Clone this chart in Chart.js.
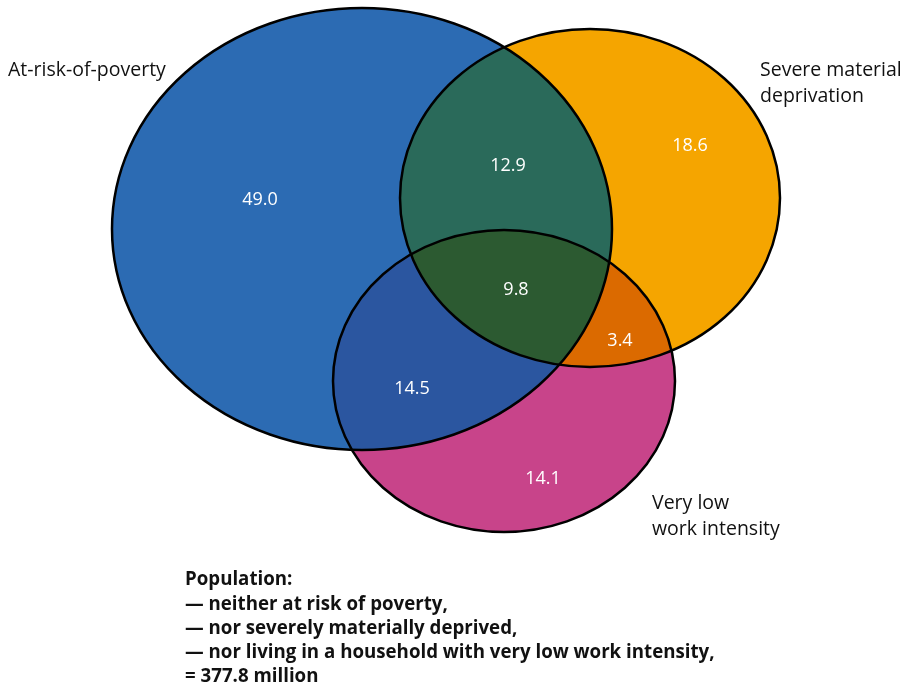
<!DOCTYPE html>
<html>
<head>
<meta charset="utf-8">
<script src="https://cdn.jsdelivr.net/npm/chart.js@4"></script>
<style>
  html, body { margin: 0; padding: 0; background: #fff; }
  #venn { display: block; }
</style>
</head>
<body>
<canvas id="venn" width="911" height="687"></canvas>
<script>
// region values (million persons)
const regions = ["AROP only", "AROP+SMD", "SMD only", "all three", "SMD+LWI", "AROP+LWI", "LWI only"];
const values = [49.0, 12.9, 18.6, 9.8, 3.4, 14.5, 14.1];
const setNames = ["At-risk-of-poverty", "Severe material\ndeprivation", "Very low\nwork intensity"];
const noteLines = [
  "Population:",
  "\u2014 neither at risk of poverty,",
  "\u2014 nor severely materially deprived,",
  "\u2014 nor living in a household with very low work intensity,",
  "= 377.8 million"
];

// layout of the diagram (in axis units)
const sets = [
  { cx: 362, cy: 229, rx: 250, ry: 221, color: "#2c6bb3" },
  { cx: 590, cy: 198, rx: 190, ry: 169, color: "#f5a500" },
  { cx: 504, cy: 381, rx: 171, ry: 151, color: "#c8448a" }
];
// which sets make up each region, where its label sits, and its colour
const regionSets = [[0], [0, 1], [1], [0, 1, 2], [1, 2], [0, 2], [2]];
const regionColor = ["#2c6bb3", "#2a6a5a", "#f5a500", "#2c5a31", "#db6a00", "#2b56a0", "#c8448a"];
const labelPos = [[260, 200], [508, 166], [690, 146], [516, 290], [620, 341], [412, 389], [543, 479]];
const namePos = [[8, 70, "left"], [760, 70, "left"], [652, 503, "left"]];

const vennPlugin = {
  id: "venn",
  beforeDatasetsDraw(chart) {
    const ctx = chart.ctx;
    const xs = chart.scales.x, ys = chart.scales.y;
    const ell = (s) => {
      const cx = xs.getPixelForValue(s.cx), cy = ys.getPixelForValue(s.cy);
      const rx = Math.abs(xs.getPixelForValue(s.cx + s.rx) - cx);
      const ry = Math.abs(ys.getPixelForValue(s.cy + s.ry) - cy);
      ctx.beginPath();
      ctx.ellipse(cx, cy, rx, ry, 0, 0, Math.PI * 2);
    };
    // fill base sets
    sets.forEach((s) => { ctx.save(); ell(s); ctx.fillStyle = s.color; ctx.fill(); ctx.restore(); });
    // overlaps (pairs first, triple last)
    const order = [1, 4, 5, 3];
    order.forEach((r) => {
      ctx.save();
      const ids = regionSets[r];
      for (let i = 0; i < ids.length - 1; i++) { ell(sets[ids[i]]); ctx.clip(); }
      ell(sets[ids[ids.length - 1]]);
      ctx.fillStyle = regionColor[r];
      ctx.fill();
      ctx.restore();
    });
    // outlines
    sets.forEach((s) => {
      ctx.save(); ell(s); ctx.lineWidth = 2.5; ctx.strokeStyle = "#000"; ctx.stroke(); ctx.restore();
    });
  },
  afterDatasetsDraw(chart) {
    const ctx = chart.ctx;
    const xs = chart.scales.x, ys = chart.scales.y;
    ctx.save();
    ctx.textBaseline = "middle";
    // values
    ctx.font = "18px 'Open Sans', sans-serif";
    ctx.fillStyle = "#fff";
    ctx.textAlign = "center";
    values.forEach((v, i) => {
      ctx.fillText(v.toFixed(1), xs.getPixelForValue(labelPos[i][0]), ys.getPixelForValue(labelPos[i][1]));
    });
    // set names
    ctx.font = "19.5px 'Open Sans', sans-serif";
    ctx.fillStyle = "#111";
    setNames.forEach((n, i) => {
      ctx.textAlign = namePos[i][2];
      n.split("\n").forEach((line, j) => {
        ctx.fillText(line, xs.getPixelForValue(namePos[i][0]), ys.getPixelForValue(namePos[i][1] + j * 26));
      });
    });
    // footnote
    ctx.font = "bold 18.7px 'Open Sans', sans-serif";
    ctx.textAlign = "left";
    noteLines.forEach((line, j) => {
      ctx.fillText(line, xs.getPixelForValue(185), ys.getPixelForValue(580 + j * 24.2));
    });
    ctx.restore();
  }
};

new Chart(document.getElementById("venn").getContext("2d"), {
  type: "scatter",
  data: {
    datasets: [{
      label: "Regions",
      data: labelPos.map((p, i) => ({ x: p[0], y: p[1], v: values[i], r: regions[i] })),
      pointRadius: 0
    }]
  },
  options: {
    responsive: false,
    animation: false,
    layout: { padding: 0 },
    plugins: { legend: { display: false }, tooltip: { enabled: false } },
    scales: {
      x: { type: "linear", min: 0, max: 911, display: false },
      y: { type: "linear", min: 0, max: 687, reverse: true, display: false }
    }
  },
  plugins: [vennPlugin]
});
</script>
</body>
</html>
